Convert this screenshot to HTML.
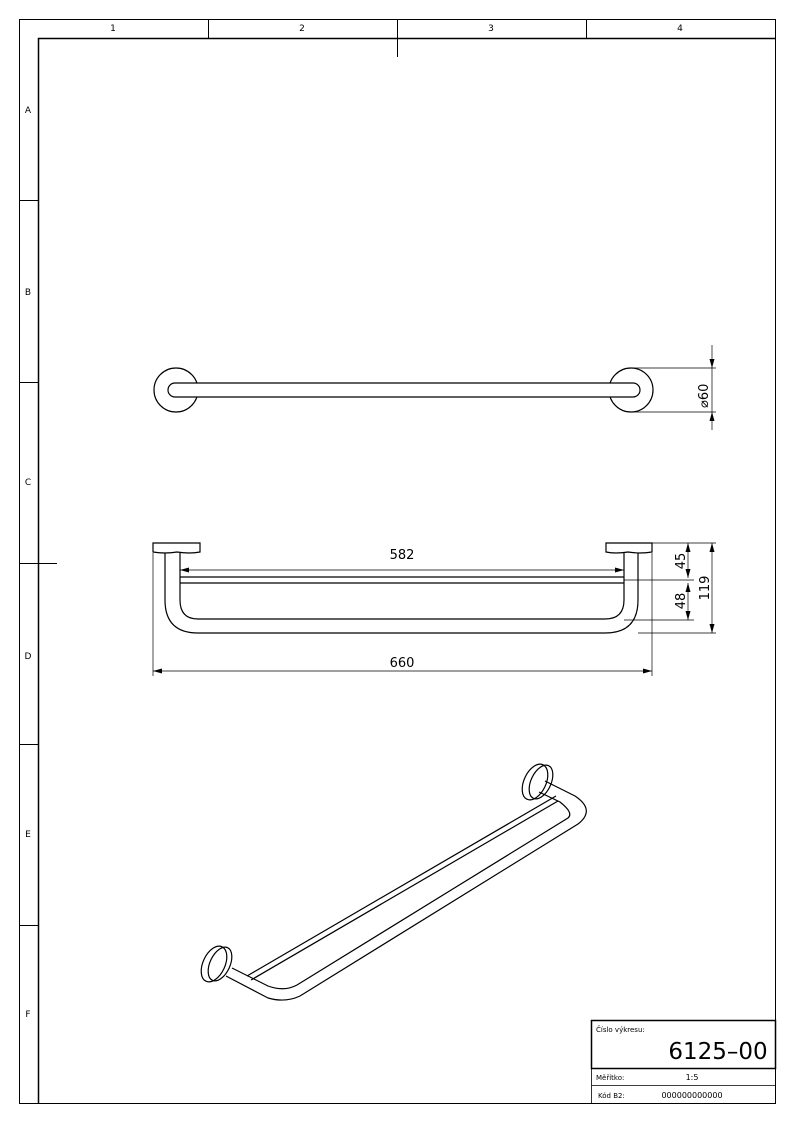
<!DOCTYPE html>
<html><head><meta charset="utf-8"><style>
html,body{margin:0;padding:0;background:#fff}
svg{display:block}
text{font-family:"DejaVu Sans","Liberation Sans",sans-serif;fill:#000}
</style></head><body>
<svg width="794" height="1123" viewBox="0 0 794 1123" xmlns="http://www.w3.org/2000/svg">
<g fill="none" stroke="#000" stroke-width="1">
<rect x="19.5" y="19.5" width="756" height="1084"/>
<path d="M38.5 1104 V38.5 H776" stroke-width="1.5"/>
<path d="M208.5 19 V38 M397.5 19 V57 M586.5 19 V38"/>
<path d="M19 200.5 H38 M19 382.5 H38 M19 563.5 H57 M19 744.5 H38 M19 925.5 H38"/>
</g>
<g font-size="9" text-anchor="middle">
<text x="113" y="31">1</text><text x="302" y="31">2</text><text x="491" y="31">3</text><text x="680" y="31">4</text>
<text x="28" y="113">A</text><text x="28" y="295">B</text><text x="28" y="485">C</text><text x="28" y="659">D</text><text x="28" y="837">E</text><text x="28" y="1017">F</text>
</g>
<!-- Top view -->
<g fill="none" stroke="#000" stroke-width="1.2">
<circle cx="176" cy="390" r="22"/>
<circle cx="631" cy="390" r="22"/>
<rect x="168" y="383" width="472" height="14" rx="7" fill="#fff"/>
</g>
<g fill="none" stroke="#000" stroke-width="0.7">
<path d="M632 368 H716 M632 412 H716 M712 345 V430"/>
</g>
<path d="M712 368 l-2.5 -9 h5 z M712 412 l-2.5 9 h5 z"/>
<text x="0" y="0" font-size="13" transform="translate(708,408) rotate(-90)">⌀60</text>
<!-- Front view -->
<g fill="none" stroke="#000" stroke-width="1.2">
<path d="M153 543 H200 V552 Q190 554 177 552 Q165 554 153 552 Z"/>
<path d="M606 543 H652 V552 Q640 554 628 552 Q615 554 606 552 Z"/>
<path d="M165 553 V600 Q165 633 198 633 H605 Q638 633 638 600 V553"/>
<path d="M180 553 V600 Q180 619 198 619 H605 Q624 619 624 600 V553"/>
<path d="M180 577 H624 M180 583 H624"/>
</g>
<g fill="none" stroke="#000" stroke-width="0.7">
<path d="M180 570 H624 M153 553 V676 M652 553 V676 M153 671 H652"/>
<path d="M652 543 H716 M624 580 H694 M624 620 H694 M638 633 H716"/>
<path d="M688 543 V578 M688 583 V620 M712 543 V633"/>
</g>
<path d="M180 570 l9 -2.5 v5 z M624 570 l-9 -2.5 v5 z M153 671 l9 -2.5 v5 z M652 671 l-9 -2.5 v5 z M688 543 l-2.5 9 h5 z M688 578 l-2.5 -9 h5 z M688 583 l-2.5 9 h5 z M688 620 l-2.5 -9 h5 z M712 543 l-2.5 9 h5 z M712 633 l-2.5 -9 h5 z"/>
<g font-size="13" text-anchor="middle">
<text x="402" y="559">582</text>
<text x="402" y="667">660</text>
<text transform="translate(685,561) rotate(-90)">45</text>
<text transform="translate(685,601) rotate(-90)">48</text>
<text transform="translate(709,588) rotate(-90)">119</text>
</g>
<!-- Isometric -->
<g fill="none" stroke="#000" stroke-width="1.2">
<ellipse cx="535" cy="782" rx="11" ry="19" transform="rotate(25 535 782)"/>
<ellipse cx="541" cy="782" rx="10" ry="18" transform="rotate(25 541 782)"/>
<ellipse cx="214" cy="964" rx="11" ry="19" transform="rotate(25 214 964)"/>
<ellipse cx="220" cy="964" rx="10" ry="18" transform="rotate(25 220 964)"/>
<path d="M545 781 L575 796 Q596 810 578 824 L300 996 Q285 1003 268 998 L226 976"/>
<path d="M539 792 L560 802 Q574 813 568 818 L297 985 Q284 992 268 986 L232 968"/>
<path d="M556 796 L247 976 M558 801 L251 980"/>
</g>
<!-- Title block -->
<g fill="none" stroke="#000">
<rect x="591.5" y="1020.5" width="184" height="48" stroke-width="1.5"/>
<path d="M591.5 1068 V1104 M591.5 1085.5 H776" stroke-width="0.8"/>
</g>
<text x="596" y="1032" font-size="7">Číslo výkresu:</text>
<text x="718" y="1059" font-size="23" text-anchor="middle">6125–00</text>
<text x="596" y="1080" font-size="7">Měřítko:</text>
<text x="692" y="1080" font-size="8" text-anchor="middle">1:5</text>
<text x="598" y="1098" font-size="7">Kód B2:</text>
<text x="692" y="1098" font-size="8" text-anchor="middle">000000000000</text>
</svg>
</body></html>
